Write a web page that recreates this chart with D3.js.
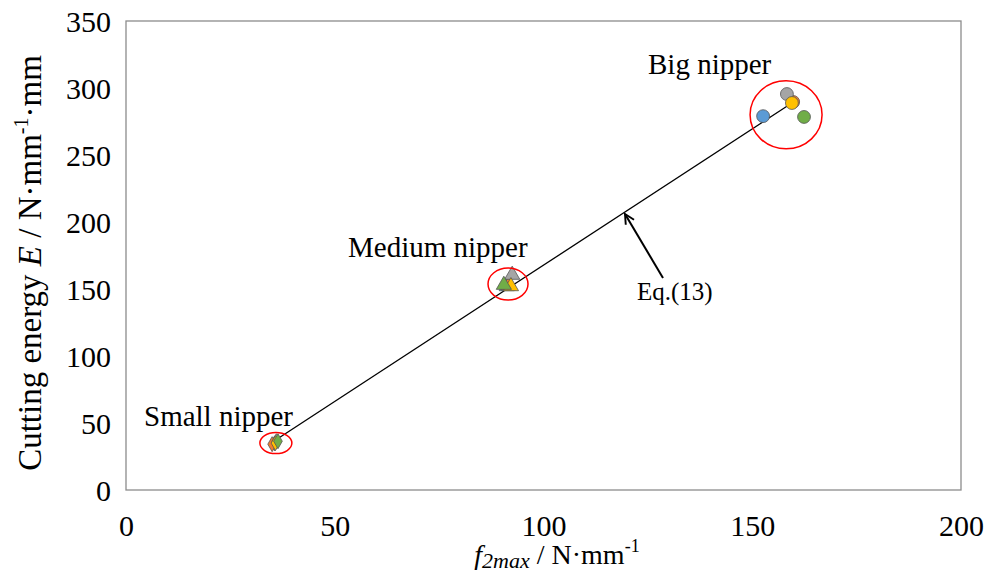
<!DOCTYPE html>
<html>
<head>
<meta charset="utf-8">
<script src="https://cdn.jsdelivr.net/npm/d3@7"></script>
<style>
  body { margin: 0; background: #fff; }
  text { font-family: "Liberation Serif", "Times New Roman", serif; fill: #000; }
</style>
</head>
<body>
<svg width="987" height="576"></svg>
<script>
// series colours (Excel default palette)
var seriesColors = ["#5b9bd5", "#ed7d31", "#a5a5a5", "#ffc000", "#70ad47"];

// small nipper (diamonds)
var smallX = [35.6, 35.0, 36.0, 35.8, 36.4];
var smallY = [34.8, 34.2, 36.4, 35.0, 36.4];
// medium nipper (triangles)
var mediumX = [91.2, 91.6, 92.5, 92.2, 90.5];
var mediumY = [152, 152.5, 160.5, 152, 153];
// big nipper (circles)
var bigX = [152.6, 159.8, 158.3, 159.5, 162.4];
var bigY = [279, 289.6, 295.5, 288.8, 278.4];

// Eq.(13) line end points
var eqX = [35.4, 159.5];
var eqY = [36.4, 288.8];

var xTicks = [0, 50, 100, 150, 200];
var yTicks = [0, 50, 100, 150, 200, 250, 300, 350];

var svg = d3.select("svg");
var plotLeft = 126, plotRight = 961, plotTop = 21, plotBottom = 490;

var x = d3.scaleLinear().domain([0, 200]).range([plotLeft, plotRight]);
var y = d3.scaleLinear().domain([0, 350]).range([plotBottom, plotTop]);

//frame
svg.append("rect")
    .attr("x", plotLeft).attr("y", plotTop)
    .attr("width", plotRight - plotLeft).attr("height", plotBottom - plotTop)
    .attr("fill", "none").attr("stroke", "#8c8c8c").attr("stroke-width", 1.3);

//axes without tick marks
var xAxis = svg.append("g")
    .attr("transform", "translate(0," + plotBottom + ")")
    .call(d3.axisBottom(x).tickValues(xTicks).tickSize(0).tickPadding(25));
var yAxis = svg.append("g")
    .attr("transform", "translate(" + plotLeft + ",0)")
    .call(d3.axisLeft(y).tickValues(yTicks).tickSize(0).tickPadding(15));
svg.selectAll(".domain").remove();
svg.selectAll(".tick text")
    .attr("font-family", "Liberation Serif, serif")
    .attr("font-size", 30).attr("fill", "#000");
yAxis.selectAll(".tick text").attr("dy", "0.34em");

//equation line
svg.append("line")
    .attr("x1", x(eqX[0])).attr("y1", y(eqY[0]))
    .attr("x2", x(eqX[1])).attr("y2", y(eqY[1]))
    .attr("stroke", "#000").attr("stroke-width", 1.3);

//markers
function drawGroup(xs, ys, shape, size) {
    svg.append("g").selectAll("path")
        .data(xs)
        .enter().append("path")
        .attr("d", d3.symbol().type(shape).size(size))
        .attr("transform", function(d, i) { return "translate(" + x(xs[i]) + "," + y(ys[i]) + ")"; })
        .attr("fill", function(d, i) { return seriesColors[i]; })
        .attr("stroke", "#555").attr("stroke-width", 0.8);
}
drawGroup(smallX, smallY, d3.symbolDiamond, 65);
drawGroup(mediumX, mediumY, d3.symbolTriangle, 100);
drawGroup(bigX, bigY, d3.symbolCircle, 130);

//red ellipses around the groups
var ringX = [35.9, 91.5, 158.1];
var ringY = [35, 153.7, 280];
var ringRx = [16, 20, 36];
var ringRy = [10.5, 16, 34];
svg.append("g").selectAll("ellipse")
    .data(ringX)
    .enter().append("ellipse")
    .attr("cx", function(d) { return x(d); })
    .attr("cy", function(d, i) { return y(ringY[i]); })
    .attr("rx", function(d, i) { return ringRx[i]; })
    .attr("ry", function(d, i) { return ringRy[i]; })
    .attr("fill", "none").attr("stroke", "#ff0000").attr("stroke-width", 1.5);

//group labels
svg.append("text").attr("x", 648).attr("y", 74).attr("font-size", 29).text("Big nipper");
svg.append("text").attr("x", 348).attr("y", 257).attr("font-size", 29).text("Medium nipper");
svg.append("text").attr("x", 144).attr("y", 426).attr("font-size", 29).text("Small nipper");

//arrow to the line
svg.append("defs").append("marker")
    .attr("id", "arr").attr("viewBox", "0 0 10 10")
    .attr("refX", 9).attr("refY", 5)
    .attr("markerWidth", 6).attr("markerHeight", 6)
    .attr("orient", "auto")
    .append("path").attr("d", "M1,1 L9,5 L1,9")
    .attr("fill", "none").attr("stroke", "#000").attr("stroke-width", 1.6);
svg.append("line")
    .attr("x1", 663).attr("y1", 278)
    .attr("x2", 625).attr("y2", 214)
    .attr("stroke", "#000").attr("stroke-width", 2)
    .attr("marker-end", "url(#arr)");
svg.append("text").attr("x", 637).attr("y", 300).attr("font-size", 25).text("Eq.(13)");

//axis titles
var yt = svg.append("text")
    .attr("transform", "translate(41,263) rotate(-90)")
    .attr("text-anchor", "middle").attr("font-size", 33);
yt.append("tspan").text("Cutting energy ");
yt.append("tspan").attr("font-style", "italic").text("E");
yt.append("tspan").text(" / N·mm");
yt.append("tspan").attr("font-size", 20).attr("dy", -13).text("-1");
yt.append("tspan").attr("dy", 13).text("·mm");

var xt = svg.append("text")
    .attr("x", 557).attr("y", 564)
    .attr("text-anchor", "middle").attr("font-size", 28);
xt.append("tspan").attr("font-style", "italic").text("f");
xt.append("tspan").attr("font-style", "italic").attr("font-size", 22).attr("dy", 4).text("2max");
xt.append("tspan").attr("dy", -4).text(" / N·mm");
xt.append("tspan").attr("font-size", 18).attr("dy", -12).text("-1");
</script>
</body>
</html>
